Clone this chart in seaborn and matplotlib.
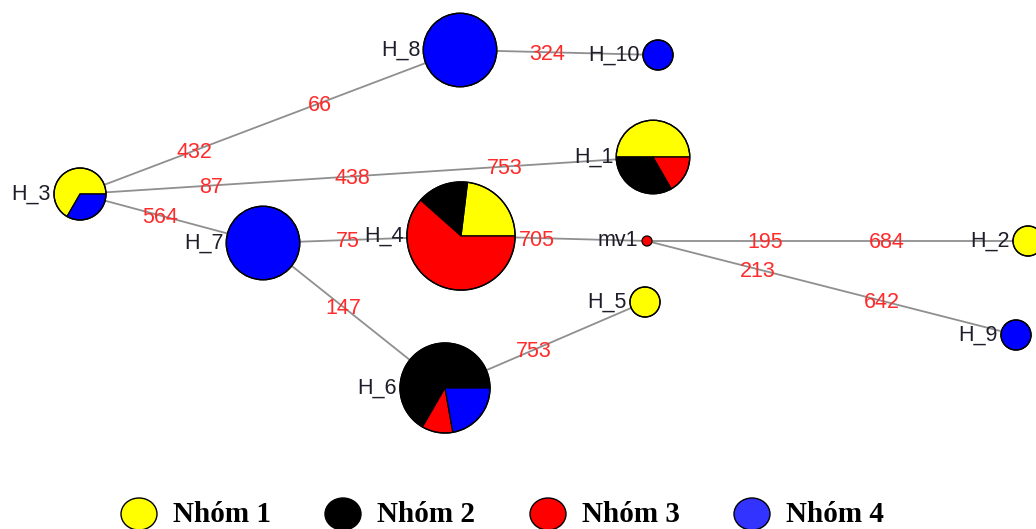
import numpy as np
import pandas as pd
import matplotlib
matplotlib.use("Agg")
import matplotlib.pyplot as plt
import seaborn as sns
from matplotlib.patches import Wedge, Circle, Ellipse

# ---------------- data ----------------
groups = ["Nhóm 1", "Nhóm 2", "Nhóm 3", "Nhóm 4"]
haplotypes = ["H_1", "H_2", "H_3", "H_4", "H_5", "H_6", "H_7", "H_8", "H_9", "H_10"]
nhom1 = [3, 1, 2, 3, 1, 0, 0, 0, 0, 0]
nhom2 = [2, 0, 0, 2, 0, 6, 0, 0, 0, 0]
nhom3 = [1, 0, 0, 8, 0, 1, 0, 0, 0, 0]
nhom4 = [0, 0, 1, 0, 0, 2, 6, 6, 1, 1]

edge_from = ["H_3", "H_8", "H_3", "H_3", "H_7", "H_4", "mv1", "mv1", "H_7", "H_6"]
edge_to = ["H_8", "H_10", "H_1", "H_7", "H_4", "mv1", "H_2", "H_9", "H_6", "H_5"]
edge_labels = [["432", "66"], ["324"], ["87", "438", "753"], ["564"], ["75"],
               ["705"], ["195", "684"], ["213", "642"], ["147"], ["753"]]

# ---------------- layout / style ----------------
W, H = 1036, 529
layout_px = {"H_1": (653, 157), "H_2": (1028, 241), "H_3": (80, 194), "H_4": (461, 236),
             "H_5": (645, 302), "H_6": (445, 388), "H_7": (263, 243), "H_8": (460, 50),
             "H_9": (1016, 335), "H_10": (658, 55), "mv1": (647, 241)}
label_frac = [[0.30, 0.63], [0.44], [0.229, 0.475, 0.742], [0.437], [0.43],
              [0.41], [0.31, 0.63], [0.30, 0.637], [0.44], [0.445]]
pos = {k: (v[0], H - v[1]) for k, v in layout_px.items()}

colors = ["#ffff00", "#000000", "#ff0000", "#0000ff"]
legend_colors = ["#ffff00", "#000000", "#ff0000", "#3333ff"]
label_color = "#1e1e2a"
num_color = "#ff2b2b"
edge_color = "#8f8f8f"

sns.set_theme(style="white")
plt.rcParams["font.family"] = ["Liberation Sans", "DejaVu Sans"]

fig = plt.figure(figsize=(W / 100, H / 100), dpi=100)
ax = fig.add_axes([0, 0, 1, 1])
ax.set_xlim(0, W)
ax.set_ylim(0, H)
ax.axis("off")

# edges via seaborn
rows = []
for i, (a, b) in enumerate(zip(edge_from, edge_to)):
    rows.append({"edge": i, "x": pos[a][0], "y": pos[a][1], "o": 0})
    rows.append({"edge": i, "x": pos[b][0], "y": pos[b][1], "o": 1})
edf = pd.DataFrame(rows)
sns.lineplot(data=edf, x="x", y="y", units="edge", estimator=None, sort=False,
             color=edge_color, linewidth=1.3, ax=ax, legend=False, zorder=1)
ax.set_xlabel("")
ax.set_ylabel("")
ax.set_xlim(0, W)
ax.set_ylim(0, H)

# edge labels
for (a, b), labs, fr in zip(zip(edge_from, edge_to), edge_labels, label_frac):
    (x0, y0), (x1, y1) = pos[a], pos[b]
    for lab, t in zip(labs, fr):
        ax.text(x0 + t * (x1 - x0), y0 + t * (y1 - y0) - 2, lab, color=num_color,
                fontsize=15.5, ha="center", va="center", zorder=4)

# nodes as pies
freqs = np.array([nhom1, nhom2, nhom3, nhom4]).T
for name, f in zip(haplotypes, freqs):
    n = f.sum()
    r = 15 * np.sqrt(n)
    cx, cy = pos[name]
    start = 0.0
    for k, c in enumerate(f):
        if c == 0:
            continue
        ang = 360.0 * c / n
        ax.add_patch(Wedge((cx, cy), r, start, start + ang, facecolor=colors[k],
                           edgecolor="black", linewidth=0.9, zorder=3))
        start += ang
    ax.add_patch(Circle((cx, cy), r, facecolor="none", edgecolor="black",
                        linewidth=1.0, zorder=3))
    ax.text(cx - r - 3, cy, name, color=label_color, fontsize=15.5, ha="right",
            va="center", zorder=5)

# median vector
cx, cy = pos["mv1"]
ax.add_patch(Circle((cx, cy), 5, facecolor="#ff0000", edgecolor="black", linewidth=0.9, zorder=3))
ax.text(cx - 9, cy, "mv1", color=label_color, fontsize=15.5, ha="right", va="center", zorder=5)

# legend
leg_x = [139, 343, 548, 752]
for g, c, lx in zip(groups, legend_colors, leg_x):
    ax.add_patch(Ellipse((lx, H - 514), 36, 32, facecolor=c, edgecolor="black",
                         linewidth=1.0, zorder=3))
    ax.text(lx + 34, H - 514, g, fontsize=21, fontweight="bold",
            family=["Liberation Serif", "DejaVu Serif"], ha="left", va="center",
            color="black")

fig.savefig("out.png", dpi=100)
